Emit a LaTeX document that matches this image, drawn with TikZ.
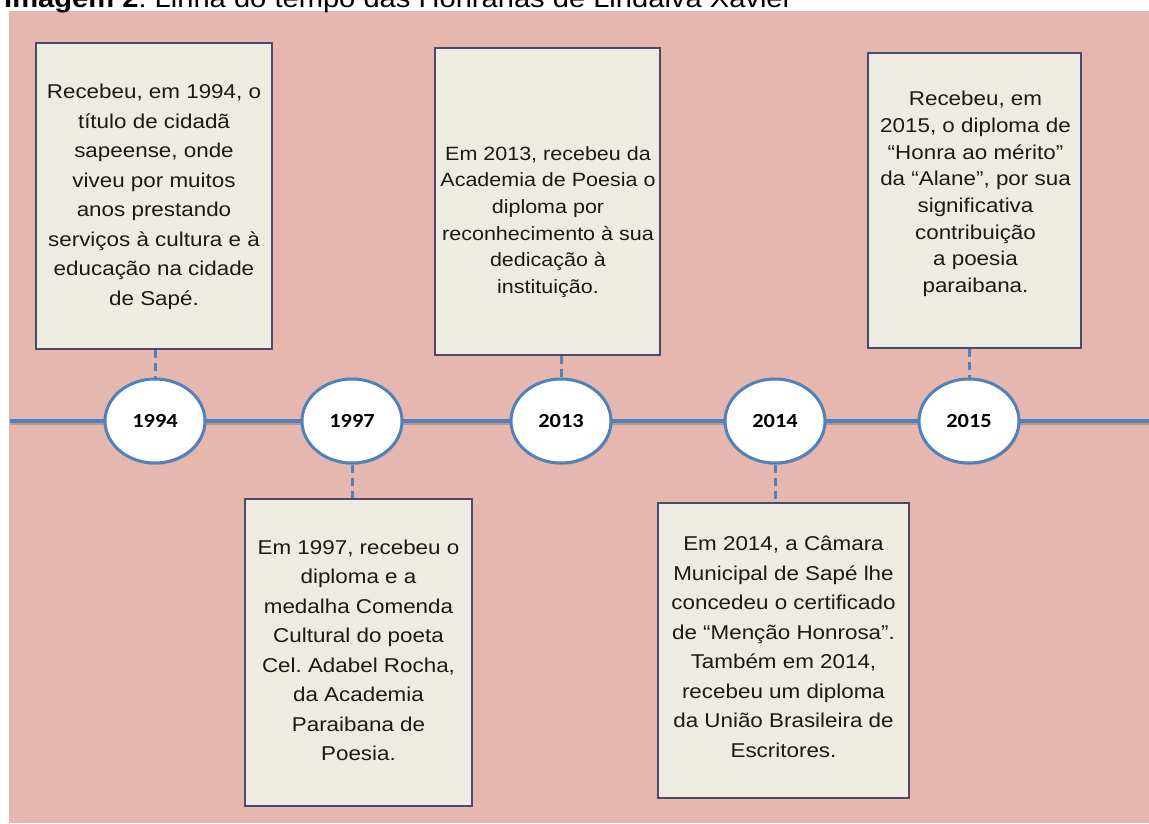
\documentclass[tikz,border=0pt]{standalone}
\usepackage{fontspec}
\setmainfont{Liberation Sans}[FakeStretch=1.12]
\newfontfamily\yearfont{Carlito}[FakeStretch=1.12]
\usetikzlibrary{shapes.geometric,shadows}
\definecolor{bgpink}{HTML}{E6B7AF}
\definecolor{boxfill}{HTML}{EEEBE2}
\definecolor{boxline}{HTML}{4A4A6A}
\definecolor{tlblue}{HTML}{4F81BD}
\definecolor{txtcol}{HTML}{1A1A1A}
\frenchspacing
\begin{document}
\begin{tikzpicture}[x=1pt,y=-1pt,
  infobox/.style={draw=boxline, line width=1.2pt, fill=boxfill, rectangle, inner sep=0pt},
  infotext/.style={align=center, text=txtcol, inner sep=0pt, font=\fontsize{20}{29.5}\selectfont},
  infotextb/.style={align=center, text=txtcol, inner sep=0pt, font=\fontsize{20}{26.7}\selectfont},
  yearnode/.style={ellipse, draw=tlblue, line width=3pt, fill=white, minimum width=100pt, minimum height=84pt, inner sep=0pt,
    font=\yearfont\bfseries\fontsize{20}{24}\selectfont,
    drop shadow={shadow xshift=1pt, shadow yshift=-2pt, opacity=0.3}},
  tline/.style={draw=tlblue, line width=3.5pt},
  tshadow/.style={draw=black, opacity=0.18, line width=2pt},
  link/.style={draw=tlblue, line width=3pt, dash pattern=on 8pt off 5pt}
]
\useasboundingbox (0,0) rectangle (1149,823);
\fill[bgpink] (9,11) rectangle (1149,823);
\node[anchor=base west, inner sep=0pt, font=\fontsize{26}{30}\selectfont] (title) at (4,7)
  {\textbf{Imagem 2}: Linha do tempo das Honrarias de Lindalva Xavier};

% boxes
\node[infobox, minimum width=236pt, minimum height=306pt] (b1994) at (154,196) {};
\node[infobox, minimum width=225pt, minimum height=307pt] (b2013) at (547.5,201.5) {};
\node[infobox, minimum width=213pt, minimum height=295pt] (b2015) at (974.5,200.5) {};
\node[infobox, minimum width=227pt, minimum height=307pt] (b1997) at (358.5,652.5) {};
\node[infobox, minimum width=251pt, minimum height=295pt] (b2014) at (783.5,650.5) {};

% texts
\node[infotext] (t1994) at (154,197) {Recebeu, em 1994, o\\título de cidadã\\sapeense, onde\\viveu por muitos\\anos prestando\\serviços à cultura e à\\educação na cidade\\de Sapé.};
\node[infotextb, font=\fontsize{19.2}{26.7}\selectfont] (t2013) at (548,222) {Em 2013, recebeu da\\Academia de Poesia o\\diploma por\\reconhecimento à sua\\dedicação à\\instituição.};
\node[infotextb] (t2015) at (975.5,194) {Recebeu, em\\2015, o diploma de\\“Honra ao mérito”\\da “Alane”, por sua\\significativa\\contribuição\\a poesia\\paraibana.};
\node[infotext] (t1997) at (358.5,650.5) {Em 1997, recebeu o\\diploma e a\\medalha Comenda\\Cultural do poeta\\Cel. Adabel Rocha,\\da Academia\\Paraibana de\\Poesia.};
\node[infotext] (t2014) at (783.5,647) {Em 2014, a Câmara\\Municipal de Sapé lhe\\concedeu o certificado\\de “Menção Honrosa”.\\Também em 2014,\\recebeu um diploma\\da União Brasileira de\\Escritores.};

% timeline ends
\coordinate (tlstart) at (10,421);
\coordinate (tlend) at (1149,421);
\coordinate (tsstart) at (10,423.5);
\coordinate (tsend) at (1149,423.5);
\draw[tshadow] (tsstart) -- (tsend);
\draw[tline] (tlstart) -- (tlend);

% year nodes
\node[yearnode] (y1994) at (155,421) {1994};
\node[yearnode] (y1997) at (352,421) {1997};
\node[yearnode] (y2013) at (561,421) {2013};
\node[yearnode] (y2014) at (775,421) {2014};
\node[yearnode] (y2015) at (969,421) {2015};

% connectors
\draw[link] (b1994.south -| y1994.north) -- (y1994.north);
\draw[link] (y1997.south) -- (y1997.south |- b1997.north);
\draw[link] (b2013.south -| y2013.north) -- (y2013.north);
\draw[link] (y2014.south) -- (y2014.south |- b2014.north);
\draw[link] (b2015.south -| y2015.north) -- (y2015.north);
\end{tikzpicture}
\end{document}
